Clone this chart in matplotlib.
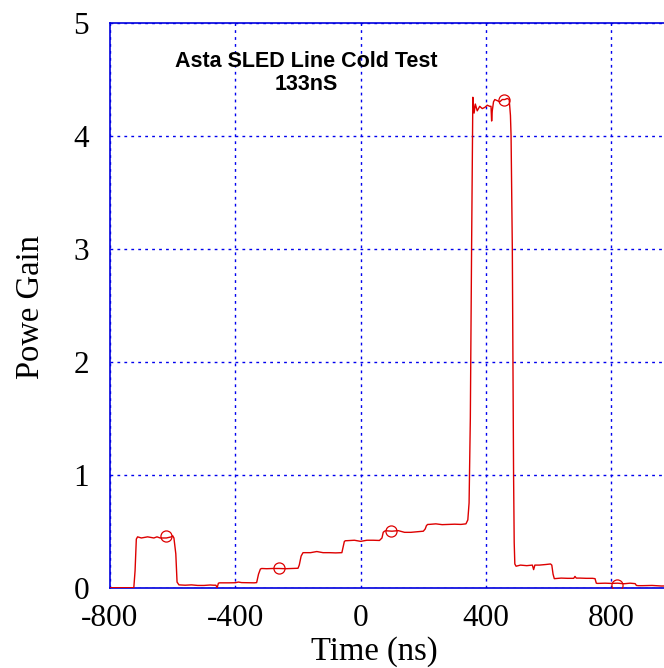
import matplotlib
matplotlib.use("Agg")
import matplotlib.pyplot as plt

# Trace of the power gain (vertices)
time_ns = [-800, -724, -720, -716, -712, -700, -680, -660, -650, -640, -620, -604, -600, -596,
           -590, -586, -580, -560, -540, -520, -500, -480, -470, -462, -458, -454, -450, -420,
           -400, -390, -380, -360, -340, -332, -326, -320, -316, -300, -280, -260, -240, -220,
           -200, -196, -190, -184, -180, -160, -140, -120, -100, -80, -60, -56, -52, -48, -44,
           -20, 0, 20, 40, 60, 68, 72, 76, 80, 100, 120, 140, 160, 180, 200, 206, 210, 214,
           218, 240, 260, 280, 300, 320, 336, 342, 346, 350, 354, 358, 362, 366, 372, 380, 388,
           396, 404, 412, 416, 418, 420, 424, 428, 436, 444, 452, 460, 468, 474, 478, 480, 484,
           486, 488, 490, 492, 496, 510, 530, 548, 552, 556, 570, 590, 606, 610, 614, 618, 640,
           660, 680, 684, 688, 700, 720, 740, 748, 752, 756, 780, 800, 820, 840, 860, 876, 880,
           886, 900, 930, 960, 1000]
gain = [0.0, 0.0, 0.15, 0.43, 0.45, 0.44, 0.45, 0.44, 0.45, 0.44, 0.44, 0.45, 0.46, 0.44,
        0.30, 0.05, 0.025, 0.022, 0.025, 0.02, 0.02, 0.024, 0.022, 0.022, 0.0, 0.04, 0.043, 0.043,
        0.044, 0.05, 0.045, 0.044, 0.043, 0.045, 0.12, 0.165, 0.17, 0.168, 0.17, 0.17, 0.168,
        0.17, 0.172, 0.2, 0.28, 0.31, 0.31, 0.31, 0.32, 0.31, 0.31, 0.308, 0.31, 0.36, 0.41,
        0.416, 0.416, 0.42, 0.41, 0.42, 0.42, 0.418, 0.44, 0.49, 0.5, 0.504, 0.5, 0.505, 0.49,
        0.49, 0.495, 0.5, 0.52, 0.55, 0.56, 0.56, 0.565, 0.558, 0.56, 0.562, 0.56, 0.565, 0.6,
        0.75, 1.5, 3.0, 4.34, 4.2, 4.28, 4.22, 4.26, 4.24, 4.25, 4.27, 4.26, 4.26, 4.13, 4.22,
        4.30, 4.32, 4.31, 4.30, 4.32, 4.32, 4.33, 4.32, 4.18, 4.0, 3.0, 2.0, 1.0, 0.4, 0.21,
        0.19, 0.2, 0.195, 0.2, 0.16, 0.2, 0.2, 0.205, 0.21, 0.2, 0.12, 0.08, 0.085, 0.083,
        0.083, 0.1, 0.085, 0.085, 0.083, 0.083, 0.08, 0.04, 0.038, 0.04, 0.038, 0.04, 0.035,
        0.04, 0.036, 0.02, 0.018, 0.018, 0.02, 0.015, 0.016]

# Circle markers placed along the trace
marker_t = [-622, -261, 98, 459, 818]
marker_g = [0.457, 0.17, 0.504, 4.32, 0.024]

xticks = [-800, -400, 0, 400, 800]
yticks = [0, 1, 2, 3, 4, 5]

W, H = 664, 668
fig = plt.figure(figsize=(W / 100, H / 100), dpi=100)
left, right, top, bottom = 110, 674, 22.7, 587.7
ax = fig.add_axes([left / W, 1 - bottom / H, (right - left) / W, (bottom - top) / H])

ax.plot(time_ns, gain, color="#dd0000", lw=1.0, zorder=3)
ax.plot(marker_t, marker_g, ls="none", marker="o", ms=8, mfc="none", mec="#dd0000",
        mew=0.9, zorder=3)

ax.set_xlim(-800, 1000)
ax.set_ylim(0, 5)
ax.set_xticks(xticks)
ax.set_yticks(yticks)
ax.set_xticklabels([str(v) for v in xticks])
ax.set_yticklabels([str(v) for v in yticks])

serif = ["Liberation Serif", "DejaVu Serif"]
for lab in ax.get_xticklabels() + ax.get_yticklabels():
    lab.set_family(serif)
    lab.set_fontsize(22.5)
ax.tick_params(axis="both", length=0)
ax.tick_params(axis="x", pad=12)
ax.tick_params(axis="y", pad=15)

ax.grid(True, color="#0000ee", lw=1.0, ls=(0, (2, 3)))
ax.set_axisbelow(True)
for s in ax.spines.values():
    s.set_color("#0000dd")
    s.set_linewidth(1.2)

fig.text(374 / W, 1 - 652 / H, "Time (ns)", ha="center", va="center",
         family=serif, fontsize=23.5)
fig.text(31 / W, 1 - 307 / H, "Powe Gain", ha="center", va="center", rotation=90,
         family=serif, fontsize=23.5)

sans = ["Liberation Sans", "DejaVu Sans"]
fig.text(306 / W, 1 - 61.5 / H, "Asta SLED Line Cold Test", ha="center", va="center",
         family=sans, fontsize=15.5, weight="bold")
fig.text(306 / W, 1 - 84 / H, "133nS", ha="center", va="center",
         family=sans, fontsize=15.5, weight="bold")

fig.savefig("out.png", dpi=100)
